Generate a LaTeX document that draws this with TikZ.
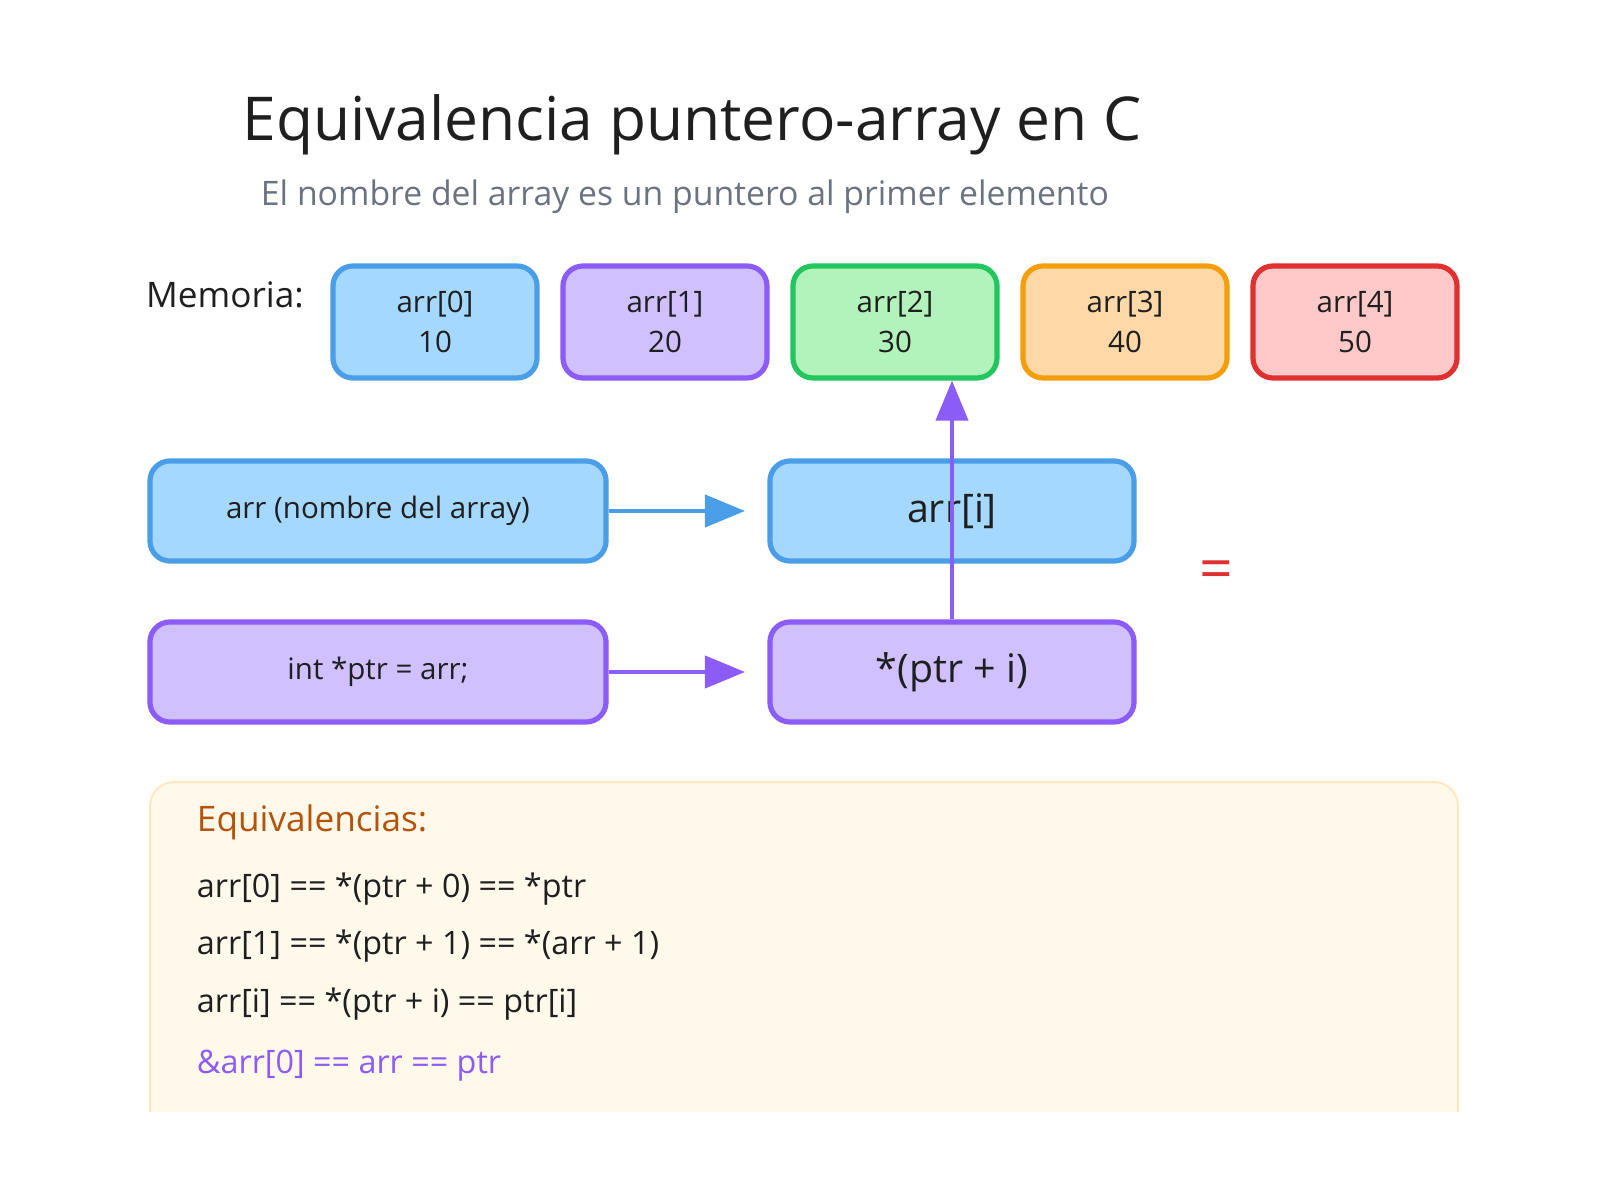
\documentclass[tikz,border=0pt]{standalone}
\usepackage{fontspec}
\setmainfont{Open Sans}
\usetikzlibrary{positioning}
\usetikzlibrary{arrows.meta}

\definecolor{blueF}{HTML}{A5D8FF}\definecolor{blueD}{HTML}{4A9EE8}
\definecolor{purpF}{HTML}{D0C0FF}\definecolor{purpD}{HTML}{8B5CF6}
\definecolor{greenF}{HTML}{B2F2BB}\definecolor{greenD}{HTML}{22C55E}
\definecolor{oranF}{HTML}{FFD8A8}\definecolor{oranD}{HTML}{F59E0B}
\definecolor{redF}{HTML}{FFC9C9}\definecolor{redD}{HTML}{E03131}
\definecolor{noteF}{HTML}{FFF9EB}\definecolor{noteD}{HTML}{FFE8C0}
\definecolor{brownT}{HTML}{B45309}\definecolor{grayT}{HTML}{6B7280}
\definecolor{inkT}{HTML}{1F1F1F}

\tikzset{
  cell/.style={draw=#1D, fill=#1F, line width=1.3mm, rounded corners=0.5cm,
    minimum width=5.1cm, minimum height=2.8cm, align=center, text=inkT,
    font=\fontsize{21}{29}\selectfont},
  row/.style={draw=#1D, fill=#1F, line width=1.3mm, rounded corners=0.5cm,
    minimum width=11.4cm, minimum height=2.5cm, text=inkT,
    font=\fontsize{21}{26}\selectfont},
  big/.style={row=#1, minimum width=9.1cm, font=\fontsize{28}{32}\selectfont},
  link/.style={line width=1mm, -{Triangle[length=1cm,width=0.8cm]}},
  eq/.style={anchor=west, text=inkT, font=\fontsize{23}{28}\selectfont}
}

\begin{document}
\begin{tikzpicture}[x=0.025cm, y=-0.025cm]
\useasboundingbox (0,0) rectangle (1600,1200);

\node[text=inkT, font=\fontsize{43}{50}\selectfont] (title) at (692,125) {Equivalencia puntero-array en C};
\node[text=grayT, font=\fontsize{24}{30}\selectfont] (sub) at (685,197) {El nombre del array es un puntero al primer elemento};

\node[text=inkT, font=\fontsize{25}{30}\selectfont] (memlbl) at (225,295) {Memoria:};
\node[cell=blue]  (m0) at (435,322) {arr[0]\\10};
\node[cell=purp]  (m1) at (665,322) {arr[1]\\20};
\node[cell=green] (m2) at (895,322) {arr[2]\\30};
\node[cell=oran]  (m3) at (1125,322) {arr[3]\\40};
\node[cell=red]   (m4) at (1355,322) {arr[4]\\50};

\node[row=blue] (name) at (378,511) {arr (nombre del array)};
\node[big=blue] (idx) at (952,511) {arr[i]};
\node[row=purp] (ptr) at (378,672) {int *ptr = arr;};
\node[big=purp] (deref) at (952,672) {*(ptr + i)};

\coordinate (nameT) at (745,511);
\coordinate (ptrT) at (745,672);
\draw[link, blueD] (name.east) -- (nameT);
\draw[link, purpD] (ptr.east) -- (ptrT);
\draw[link, purpD] (deref.north) -- (m2.south -| deref.north);

\node[text=redD, font=\fontsize{42}{44}\selectfont] (equal) at (1216,575) {=};

\draw[noteD, fill=noteF, line width=0.5mm, rounded corners=0.6cm]
  (150,1112) -- (150,782) -- (1458,782) -- (1458,1112);
\node[anchor=west, text=brownT, font=\fontsize{25}{30}\selectfont] (eqh) at (192,822) {Equivalencias:};
\node[eq] (e1) at (192,889) {arr[0] == *(ptr + 0) == *ptr};
\node[eq] (e2) at (192,946) {arr[1] == *(ptr + 1) == *(arr + 1)};
\node[eq] (e3) at (192,1004) {arr[i] == *(ptr + i) == ptr[i]};
\node[eq, text=purpD] (e4) at (192,1066) {\&arr[0] == arr == ptr};
\end{tikzpicture}
\end{document}
